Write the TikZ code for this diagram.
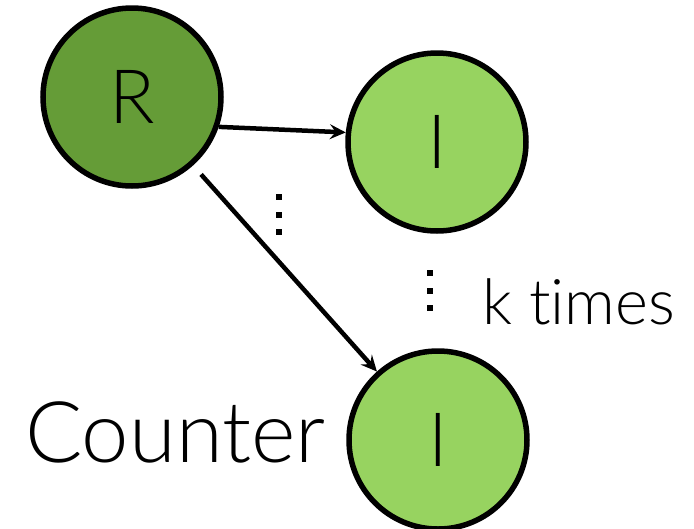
\documentclass[tikz,border=0pt]{standalone}
\usepackage{fontspec}
\setmainfont{Lato}[UprightFont={* Light}, Ligatures={NoCommon, NoRare}, Contextuals=NoAlternate]
\usetikzlibrary{arrows.meta}
\definecolor{rootgreen}{RGB}{101,156,55}
\definecolor{leafgreen}{RGB}{151,211,96}
\tikzset{
  state/.style={circle, draw=black, line width=5.5pt, minimum size=178pt, inner sep=0pt, font=\fontsize{75}{75}\selectfont},
  edge/.style={line width=4.5pt, -{Stealth[length=16pt, width=15pt, inset=6pt]}},
  dotsq/.style={fill=black, minimum size=6pt, inner sep=0pt}
}
\begin{document}
\begin{tikzpicture}[x=1pt, y=-1pt]
  \useasboundingbox (0,0) rectangle (694,528);
  \node[state, fill=rootgreen] (R) at (132,97) {R};
  \node[state, fill=leafgreen] (I1) at (437,142) {I};
  \node[state, fill=leafgreen] (I2) at (438,440) {I};
  \draw[edge] (R.-19) -- (I1.174);
  \draw[edge, shorten <=12pt] (R) -- (I2);
  % vertical ellipses
  \node[dotsq] (d1) at (279,197) {};
  \node[dotsq] (d2) at (279,215) {};
  \node[dotsq] (d3) at (279,232) {};
  \node[dotsq] (e1) at (430,273) {};
  \node[dotsq] (e2) at (430,291) {};
  \node[dotsq] (e3) at (430,308) {};
  \node[anchor=base west, inner sep=0pt, font=\fontsize{63}{63}\selectfont] (k) at (482,324) {k times};
  \node[anchor=base west, inner sep=0pt, font=\fontsize{85}{85}\selectfont] (c) at (25,462) {Counter};
\end{tikzpicture}
\end{document}
